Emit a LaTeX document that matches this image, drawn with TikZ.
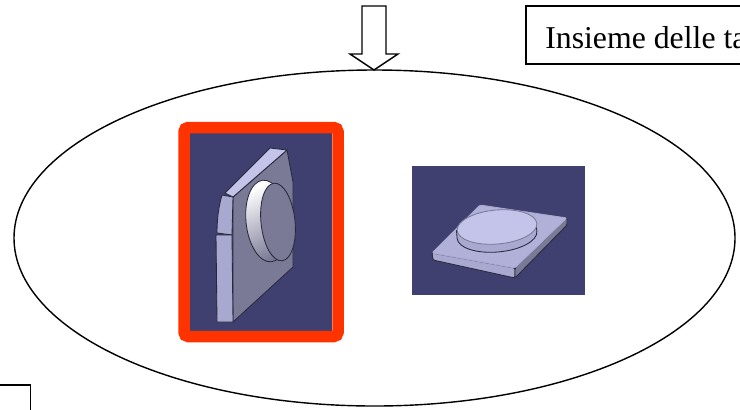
\documentclass[tikz,border=0pt]{standalone}
\usepackage{fontspec}
\setmainfont{Liberation Serif}
\definecolor{partbg}{RGB}{64,64,112}
\definecolor{framered}{RGB}{255,51,0}
\definecolor{partface}{RGB}{122,122,150}
\definecolor{partside}{RGB}{168,168,208}
\definecolor{partlight}{RGB}{196,196,234}
\definecolor{partedge}{RGB}{40,40,60}
\tikzset{
  outline/.style={draw=black,line width=1pt},
  solid part/.style={draw=partedge,line width=0.6pt,line join=round},
}

\begin{document}
\begin{tikzpicture}[x=0.025cm,y=-0.025cm]
\useasboundingbox (0,0) rectangle (740,409);
\clip (0,0) rectangle (740,409);
\fill[white] (0,0) rectangle (740,409);
\draw[outline] (374.5,238) ellipse (360.5 and 168); % the set
\draw[outline,fill=white] (362,6) -- (386,6) -- (386,54) -- (398,54) -- (374,70) -- (350,54) -- (362,54) -- cycle;
\draw[outline] (526,6) rectangle (770,64);
\node[anchor=base west,inner sep=0pt,font=\fontsize{22.6}{26}\selectfont] (title) at (545,48) {Insieme delle ta};
\draw[outline] (-5,385) -- (30.5,385) -- (30.5,415);
% left part, upright plate
\fill[partbg] (190,133) rectangle (332,331);
\draw[framered,line width=11.5*0.711pt,rounded corners=3pt] (184,127.5) rectangle (338,336.5);
\draw[solid part,fill=partface] (233,197) -- (287,150) -- (293,182) -- (293,267) -- (233,322) -- cycle;
\draw[solid part,fill=partlight] (225,193) -- (270,148) -- (287,150) -- (233,197) -- cycle;
\draw[solid part,fill=partside] (222,195) -- (233,197) -- (232,235) -- (217,233) .. controls (217,218) and (219,205) .. (222,195) -- cycle;
\draw[solid part,fill=partside] (216,235) -- (232,235) -- (233,322) -- (217,322) -- cycle;
\draw[solid part,top color=white,bottom color=partface,shading angle=25,rotate around={6:(267,221)}] (267,221) ellipse (21 and 41);
\draw[solid part,fill=partface,rotate around={6:(278,222)}] (278,222) ellipse (17 and 39);
% right part, lying plate
\fill[partbg] (412,166) rectangle (585,295);
\draw[solid part,fill=partside,rounded corners=1pt] (432,253) -- (515,268) -- (515,278) -- (433,260) -- cycle;
\draw[solid part,fill=partface,rounded corners=1pt] (515,268) -- (567,218) -- (567,225) -- (515,278) -- cycle;
\draw[solid part,draw=partside,fill=partside!70!partlight,rounded corners=1pt] (432,253) -- (480,205) -- (567,218) -- (515,268) -- cycle;
\draw[solid part,fill=partside,rotate around={5:(497,235)}] (457,227) -- (457,235) arc[start angle=180,end angle=0,x radius=40,y radius=17] -- (537,227) -- cycle;
\draw[solid part,draw=partface,fill=partlight,rotate around={5:(497,227)}] (497,227) ellipse (40 and 17);
\end{tikzpicture}
\end{document}
